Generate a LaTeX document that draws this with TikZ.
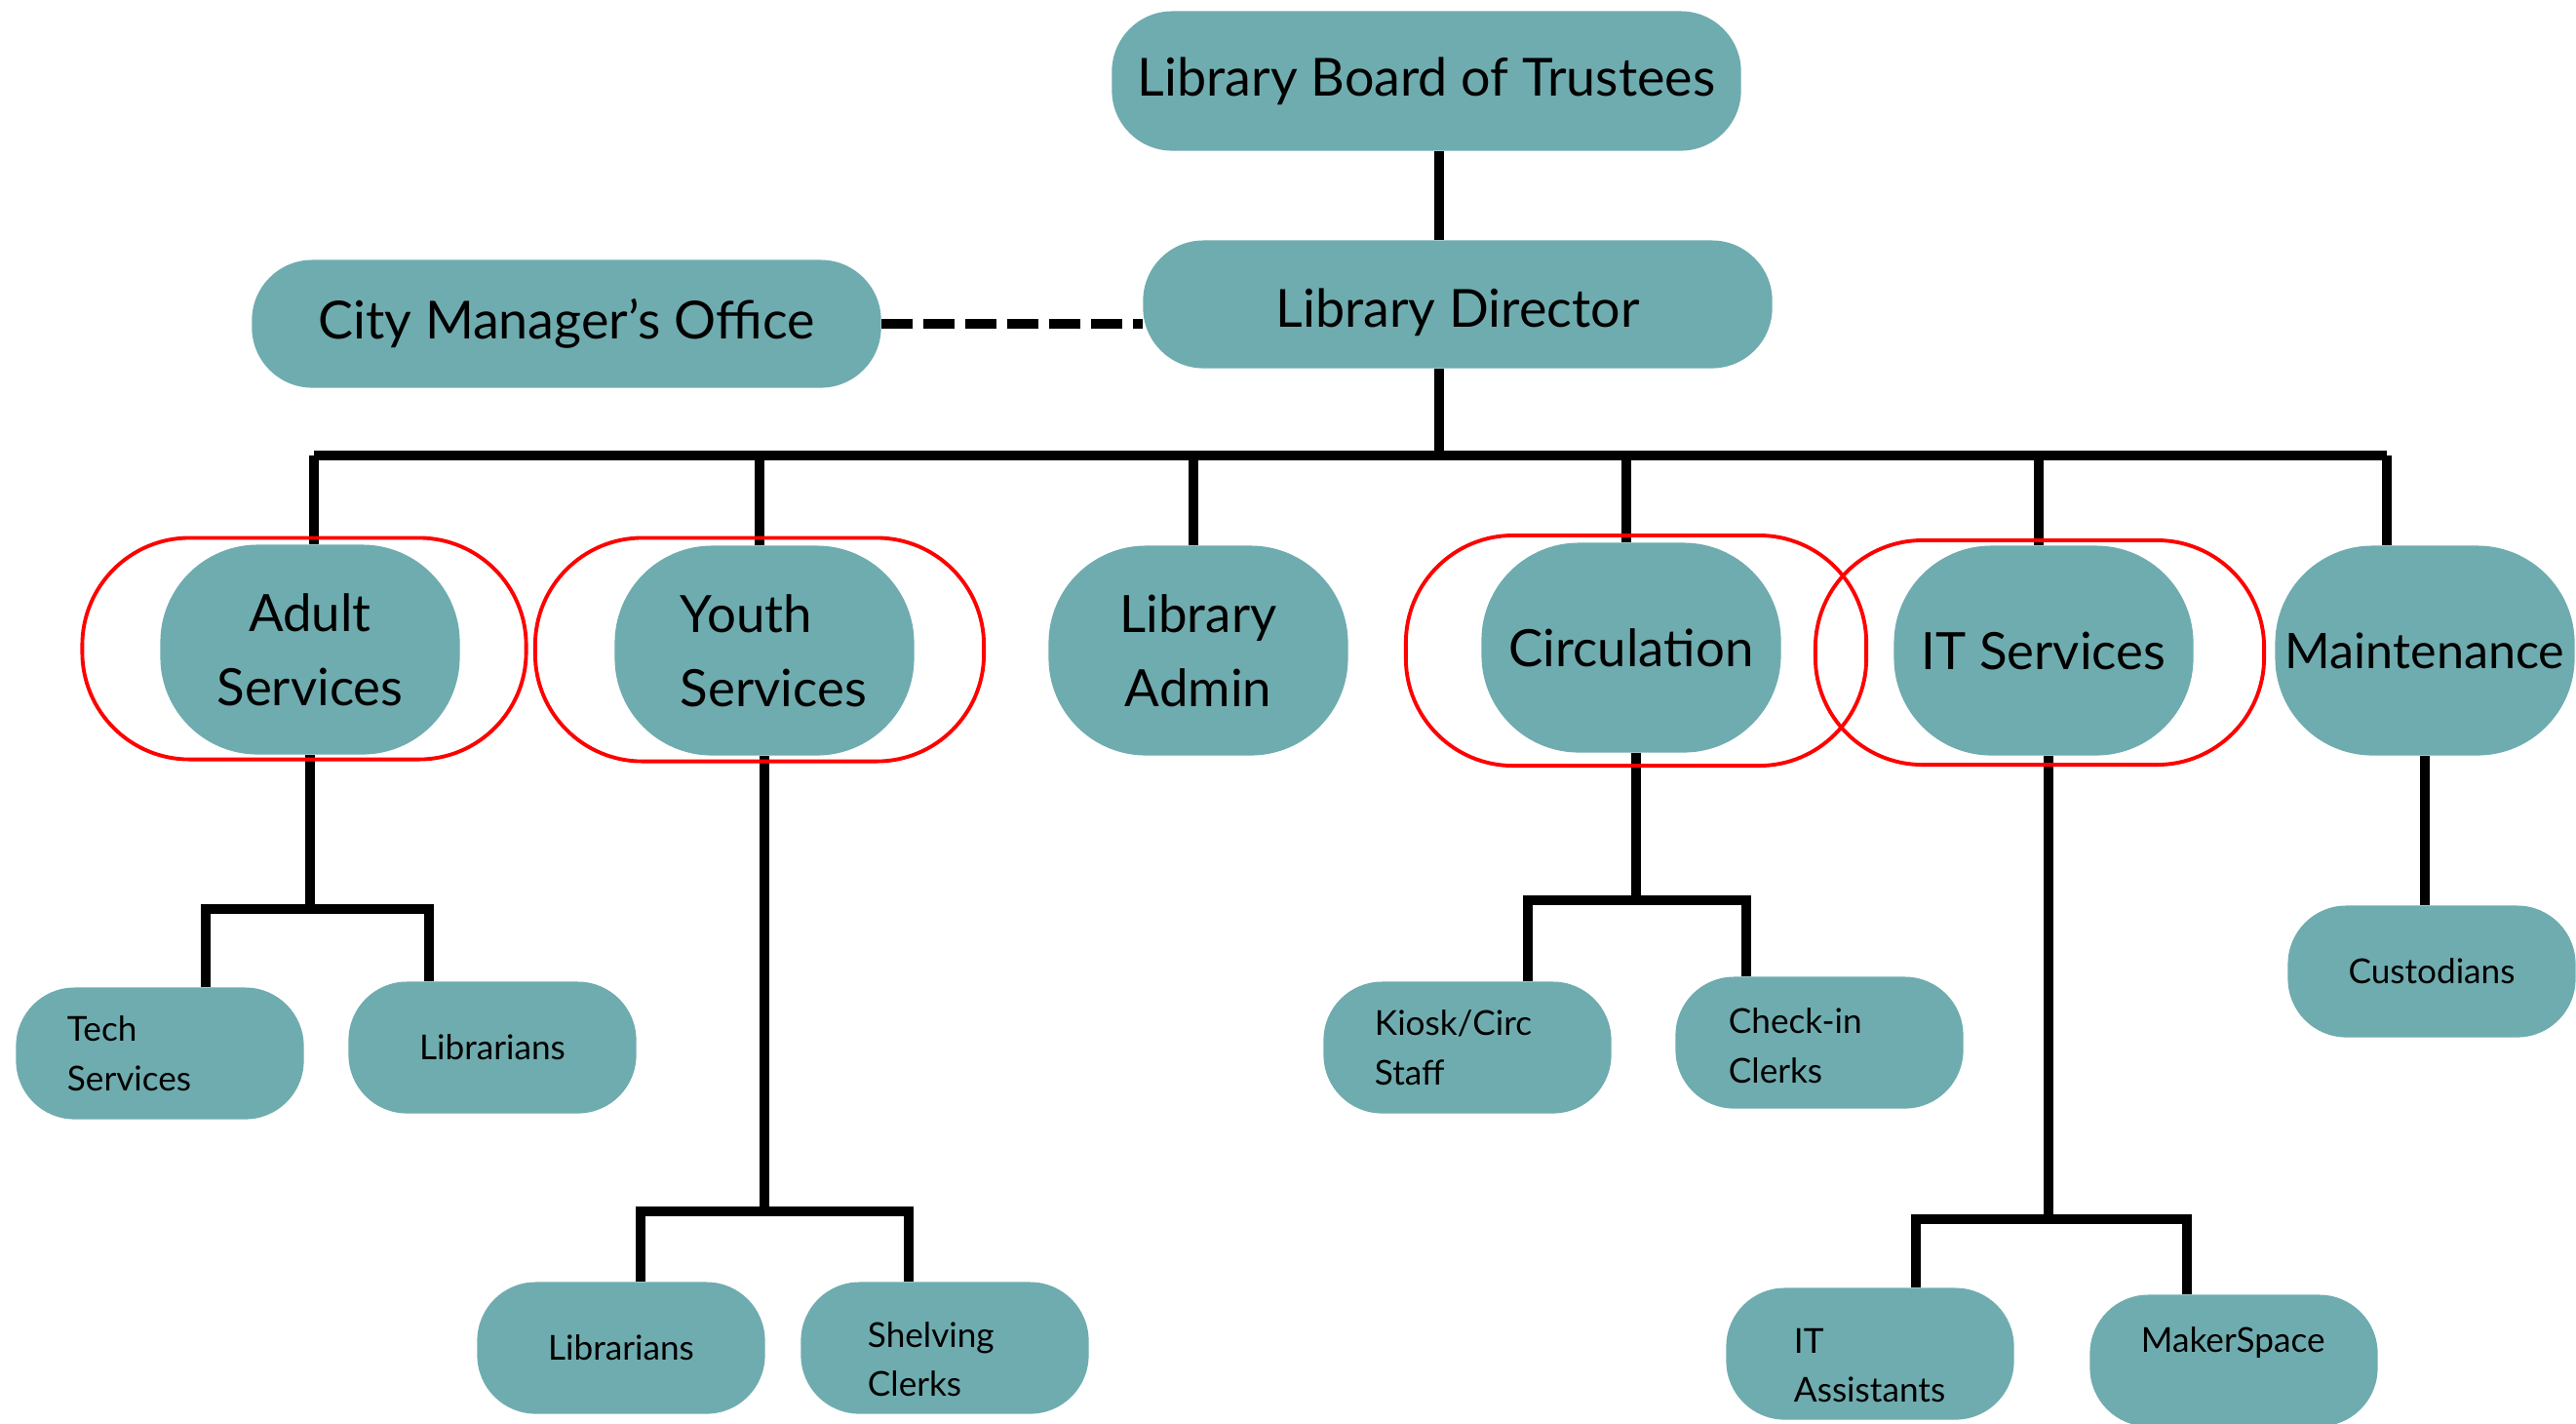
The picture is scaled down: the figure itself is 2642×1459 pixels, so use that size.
\documentclass[tikz,border=0pt]{standalone}
\usepackage{fontspec}
\setmainfont{Lato}
\definecolor{boxteal}{RGB}{111,172,175}

\begin{document}
\begin{tikzpicture}[x=0.01cm, y=-0.01cm,
        box/.style={fill=boxteal, inner sep=0pt, text=black},
        head/.style={box, minimum width=6.45cm, minimum height=1.31cm,
            rounded corners=0.62cm, font=\fontsize{15.3}{21.6}\selectfont},
        dept/.style={box, minimum width=3.07cm, minimum height=2.15cm,
            rounded corners=1cm, align=center, font=\fontsize{15}{21.6}\selectfont},
        staff/.style={box, minimum width=2.95cm, minimum height=1.35cm,
            rounded corners=0.6cm, text width=1.9cm, align=left,
            font=\fontsize{10}{14.4}\selectfont},
        ring/.style={draw=red, line width=1.1pt, rounded corners=1.1cm},
        link/.style={draw=black, line width=2.8pt},
        dotlink/.style={link, dash pattern=on 9.1pt off 3.1pt}]
    \useasboundingbox (0,0) rectangle (2642,1459);

    % top of the chart
    \node[head, minimum height=1.43cm] (board) at (1463,83) {Library Board of Trustees};
    \node[head, text height=16pt] (director) at (1495,312) {Library Director};
    \node[head] (citymgr) at (581,332) {City Manager’s Office};

    % departments
    \node[dept] (adult) at (318,666) {Adult\\Services};
    \node[dept, text width=1.72cm, align=left] (youth) at (784,667) {Youth\\Services};
    \node[dept] (admin) at (1229,667) {Library\\Admin};
    \node[dept] (circ) at (1673,664) {Circulation};
    \node[dept] (itserv) at (2096,667) {IT Services};
    \node[dept, font=\fontsize{14.3}{21.6}\selectfont] (maint) at (2487,667) {Maintenance};

    % staff
    \node[staff] (tech) at (164,1080) {Tech\\Services};
    \node[staff, align=center] (adlib) at (505,1074) {Librarians};
    \node[staff, align=center] (yolib) at (637,1382) {Librarians};
    \node[staff, text width=1.58cm] (shelve) at (969,1382) {\rule{0pt}{14pt}Shelving\\Clerks};
    \node[staff] (kiosk) at (1505,1074) {Kiosk/Circ\\Staff};
    \node[staff, text width=1.86cm] (checkin) at (1866,1069) {\rule{0pt}{9pt}Check-in\\Clerks};
    \node[staff, text width=1.56cm] (itasst) at (1918,1388) {\rule{0pt}{14pt}IT\\Assistants};
    \node[staff, text depth=12pt] (maker) at (2291,1395) {MakerSpace};
    \node[staff, align=center] (cust) at (2494,996) {Custodians};

    % lines
    \coordinate (spine) at (1476,467);
    \draw[link] (board.south -| spine) -- (director.north -| spine);
    \draw[link] (director.south -| spine) -- (spine);
    \draw[dotlink] (citymgr.east) -- (citymgr.east -| director.west);
    \draw[link] ([xshift=0.4mm]adult.north |- spine) -- ([xshift=-3.9mm]maint.north |- spine);
    \foreach \n/\dx in {adult/0.4,youth/-0.5,admin/-0.5,circ/-0.5,itserv/-0.5,maint/-3.9}
        \draw[link] ([xshift=\dx mm]\n.north |- spine) -- ([xshift=\dx mm]\n.north);

    \coordinate (adfork) at (318,932);
    \coordinate (yofork) at (784,1242);
    \coordinate (cifork) at (1678,923);
    \coordinate (itfork) at (2101,1250);
    \draw[link] (adult.south) -- (adfork);
    \draw[link] ([xshift=4.7mm]tech.north) |- (adfork) -| ([xshift=-6.5mm]adlib.north);
    \draw[link] (youth.south) -- (yofork);
    \draw[link] ([xshift=2mm]yolib.north) |- (yofork) -| ([xshift=-3.7mm]shelve.north);
    \draw[link] (circ.south -| cifork) -- (cifork);
    \draw[link] ([xshift=6.2mm]kiosk.north) |- (cifork) -| ([xshift=-7.5mm]checkin.north);
    \draw[link] (itserv.south -| itfork) -- (itfork);
    \draw[link] ([xshift=4.7mm]itasst.north) |- (itfork) -| ([xshift=-4.8mm]maker.north);
    \draw[link] (maint.south) -- (cust.north -| maint.south);

    % groups marked in red
    \node[ring, minimum width=4.55cm, minimum height=2.27cm] (adultring) at (312,665) {};
    \node[ring, minimum width=4.6cm, minimum height=2.29cm] (youthring) at (779,666) {};
    \node[ring, minimum width=4.72cm, minimum height=2.36cm] (circring) at (1678,667) {};
    \node[ring, minimum width=4.6cm, minimum height=2.3cm] (itring) at (2092,669) {};
\end{tikzpicture}
\end{document}
